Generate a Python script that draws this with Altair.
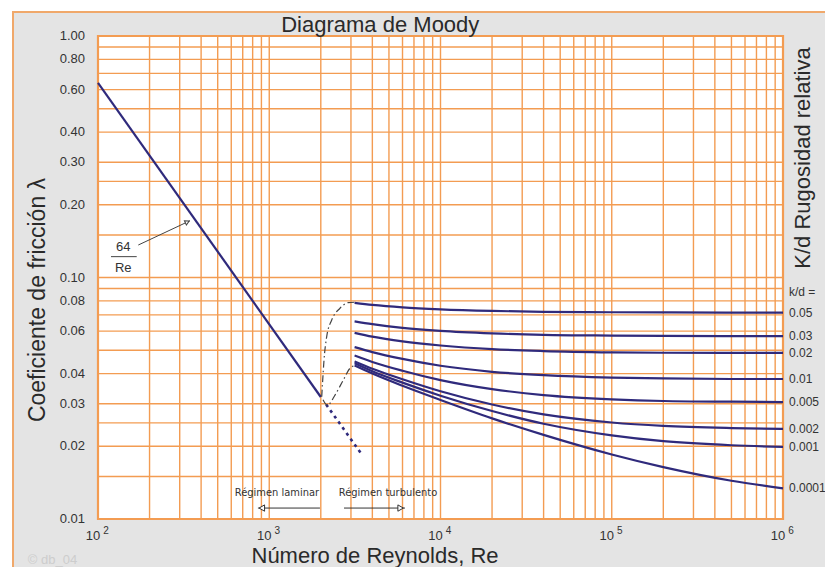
import altair as alt
import pandas as pd

# ---------------- data ----------------
W, H = 685, 483
RE_MIN, RE_MAX = 100, 1_000_000
F_MIN, F_MAX = 0.01, 1.0

DECADES = [100, 1000, 10000, 100000]
MULTS = [1, 2, 3, 4, 5, 6, 7, 8, 9]
GRID_X = [d * m for d in DECADES for m in MULTS] + [1_000_000]
GRID_Y = [1.0, 0.9, 0.8, 0.7, 0.6, 0.5, 0.4, 0.3, 0.25, 0.2, 0.15, 0.1, 0.09, 0.08,
          0.07, 0.06, 0.05, 0.04, 0.03, 0.025, 0.02, 0.015, 0.01]
Y_LABELS = [1.0, 0.8, 0.6, 0.4, 0.3, 0.2, 0.1, 0.08, 0.06, 0.04, 0.03, 0.02, 0.01]
Y_LABEL_TEXT = ["1.00", "0.80", "0.60", "0.40", "0.30", "0.20", "0.10", "0.08", "0.06",
                "0.04", "0.03", "0.02", "0.01"]
X_LABEL_RE = [100, 1000, 10000, 100000, 1000000]
X_LABEL_EXP = ["2", "3", "4", "5", "6"]

# laminar 64/Re
LAM_RE = [100, 2000]
LAM_F = [0.64, 0.032]
LAM_DOT_RE = [2150, 3470]
LAM_DOT_F = [0.0298, 0.0185]

# transition (dash-dot) curves
TR_UP_RE = [2025, 2052, 2088, 2165, 2316, 2589, 2894, 3150]
TR_UP_F = [0.0321, 0.0376, 0.0455, 0.0569, 0.0667, 0.0746, 0.0787, 0.0790]
TR_LO_RE = [2060, 2183, 2421, 2706, 2961, 3150]
TR_LO_F = [0.0312, 0.0296, 0.0326, 0.0376, 0.0421, 0.0432]

# turbulent curves, k/d relative roughness
RE_T = [3150, 4000, 6000, 10000, 20000, 40000, 100000, 200000, 500000, 1000000]
KD = ["0.05", "0.03", "0.02", "0.01", "0.005", "0.002", "0.001", "0.0001"]
F_T = [
    [0.0785, 0.0770, 0.0752, 0.0738, 0.0727, 0.0721, 0.0718, 0.0717, 0.0716, 0.0716],
    [0.0658, 0.0641, 0.0619, 0.0601, 0.0587, 0.0579, 0.0575, 0.0573, 0.0572, 0.0572],
    [0.0590, 0.0569, 0.0544, 0.0523, 0.0505, 0.0496, 0.0490, 0.0488, 0.0487, 0.0487],
    [0.0515, 0.0491, 0.0460, 0.0431, 0.0407, 0.0394, 0.0385, 0.0382, 0.0380, 0.0380],
    [0.0475, 0.0447, 0.0411, 0.0376, 0.0345, 0.0326, 0.0313, 0.0308, 0.0306, 0.0305],
    [0.0449, 0.0419, 0.0379, 0.0338, 0.0298, 0.0271, 0.0251, 0.0243, 0.0238, 0.0236],
    [0.0441, 0.0409, 0.0367, 0.0324, 0.0280, 0.0248, 0.0222, 0.0210, 0.0202, 0.0199],
    [0.0432, 0.0400, 0.0356, 0.0311, 0.0261, 0.0223, 0.0185, 0.0164, 0.0144, 0.0134],
]

# text anchors (data coordinates)
TITLE = {"Re": 4450, "f": 1.111, "t": "Diagrama de Moody"}
XTITLE = {"Re": 4145, "f": 0.00657, "t": "Número de Reynolds, Re"}
YTITLE = {"Re": 49.0, "f": 0.0807, "t": "Coeficiente de fricción λ"}
RTITLE = {"Re": 1.438e6, "f": 0.3125, "t": "K/d Rugosidad relativa"}
KD_HDR = {"Re": 1e6, "f": 0.0873, "t": "k/d  ="}
WATERMARK = {"Re": 54.2, "f": 0.00676, "t": "© db_04"}
FRAC_TOP = {"Re": 140.5, "f": 0.1341, "t": "64"}
FRAC_BOT = {"Re": 140.5, "f": 0.1092, "t": "Re"}
FRAC_BAR = {"Re0": 119.1, "Re1": 168.3, "f": 0.1220}
FRAC_ARROW_RE = [171.9, 344.5]
FRAC_ARROW_F = [0.1363, 0.1718]
FRAC_HEAD = {"Re": 332, "f": 0.1698}
REG_LAM = {"Re": 1109, "f": 0.01281, "t": "Régimen laminar"}
REG_TUR = {"Re": 4937, "f": 0.01281, "t": "Régimen turbulento"}
REG_ARROW_F = 0.0111
REG_LAM_ARROW = [859, 1977]
REG_TUR_ARROW = [2733, 6204]
REG_LAM_HEAD = 905
REG_TUR_HEAD = 5850

# ---------------- styles ----------------
FONT = "Liberation Sans, Arial, sans-serif"
NARROW = "Liberation Sans Narrow, DejaVu Sans Condensed, Liberation Sans, sans-serif"
ORANGE = "#f39c52"
NAVY = "#2f2a7c"
GRAY_BG = "#e4e4e4"
TXT = "#2a2a2a"


def X(field):
    return alt.X(f"{field}:Q", scale=alt.Scale(type="log", domain=[RE_MIN, RE_MAX], nice=False), axis=None)


def Y(field):
    return alt.Y(f"{field}:Q", scale=alt.Scale(type="log", domain=[F_MIN, F_MAX], nice=False), axis=None)


one = alt.Data(values=[{"a": 1}])

# background panel (decoration)
panel = alt.Chart(one).mark_rect(fill=GRAY_BG, stroke="#f0a86a", strokeWidth=2).encode(
    x=alt.value(-85), x2=alt.value(W + 90), y=alt.value(-24), y2=alt.value(H + 100)
)

plot_df = pd.DataFrame({"Re0": [RE_MIN], "Re1": [RE_MAX], "f0": [F_MIN], "f1": [F_MAX]})
plot_bg = alt.Chart(plot_df).mark_rect(fill="white").encode(
    x=X("Re0"), x2="Re1", y=Y("f0"), y2="f1"
)

vgrid_df = pd.DataFrame({"Re": GRID_X, "f0": F_MIN, "f1": F_MAX})
vgrid = alt.Chart(vgrid_df).mark_rule(color=ORANGE, strokeWidth=1.4).encode(
    x=X("Re"), y=Y("f0"), y2="f1"
)
hgrid_df = pd.DataFrame({"f": GRID_Y, "Re0": RE_MIN, "Re1": RE_MAX})
hgrid = alt.Chart(hgrid_df).mark_rule(color=ORANGE, strokeWidth=1.4).encode(
    x=X("Re0"), x2="Re1", y=Y("f")
)
frame = alt.Chart(plot_df).mark_rect(fill=None, stroke=ORANGE, strokeWidth=2.2).encode(
    x=X("Re0"), x2="Re1", y=Y("f0"), y2="f1"
)

lam = alt.Chart(pd.DataFrame({"Re": LAM_RE, "f": LAM_F})).mark_line(color=NAVY, strokeWidth=2.2).encode(
    x=X("Re"), y=Y("f")
)
lam_dot = alt.Chart(pd.DataFrame({"Re": LAM_DOT_RE, "f": LAM_DOT_F})).mark_line(
    color=NAVY, strokeWidth=2.6, strokeDash=[3, 4]).encode(x=X("Re"), y=Y("f"))

tr_df = pd.concat([
    pd.DataFrame({"Re": TR_UP_RE, "f": TR_UP_F, "c": "up", "o": range(len(TR_UP_RE))}),
    pd.DataFrame({"Re": TR_LO_RE, "f": TR_LO_F, "c": "lo", "o": range(len(TR_LO_RE))}),
])
trans = alt.Chart(tr_df).mark_line(color="#444", strokeWidth=1.2, strokeDash=[7, 3, 1.5, 3],
                                   interpolate="monotone").encode(
    x=X("Re"), y=Y("f"), detail="c:N", order="o:Q"
)

rows = []
for kd, fs in zip(KD, F_T):
    for i, (re, f) in enumerate(zip(RE_T, fs)):
        rows.append({"kd": kd, "Re": re, "f": f, "o": i})
turb_df = pd.DataFrame(rows)
turb = alt.Chart(turb_df).mark_line(color=NAVY, strokeWidth=2.2, interpolate="monotone").encode(
    x=X("Re"), y=Y("f"), detail="kd:N", order="o:Q"
)

# left y tick labels
yl_df = pd.DataFrame({"Re": RE_MIN, "f": Y_LABELS, "t": Y_LABEL_TEXT})
ylabels = alt.Chart(yl_df).mark_text(align="right", baseline="middle", dx=-13, font=FONT, fontSize=13,
                                     color="#333").encode(x=X("Re"), y=Y("f"), text="t:N")

# right-side k/d labels at curve ends
rl_df = pd.DataFrame({"Re": RE_T[-1], "f": [fs[-1] for fs in F_T], "t": KD})
rlabels = alt.Chart(rl_df).mark_text(align="left", baseline="middle", dx=6, font=FONT, fontSize=12,
                                     color="#333").encode(x=X("Re"), y=Y("f"), text="t:N")

# x tick labels 10^n
xl_df = pd.DataFrame({"Re": X_LABEL_RE, "f": F_MIN, "e": X_LABEL_EXP, "b": "10"})
xbase = alt.Chart(xl_df).mark_text(align="center", baseline="middle", dx=-5, dy=17, font=FONT,
                                   fontSize=13, color="#333").encode(x=X("Re"), y=Y("f"), text="b:N")
xexp = alt.Chart(xl_df).mark_text(align="center", baseline="middle", dx=8, dy=12, font=FONT,
                                  fontSize=10, color="#333").encode(x=X("Re"), y=Y("f"), text="e:N")


def txt(d, **kw):
    return alt.Chart(pd.DataFrame([d])).mark_text(**kw).encode(x=X("Re"), y=Y("f"), text="t:N")


title = txt(TITLE, align="center", baseline="middle", font=FONT, fontSize=22, color=TXT)
xtitle = txt(XTITLE, align="center", baseline="alphabetic", font=FONT, fontSize=22, color=TXT)
ytitle = txt(YTITLE, align="center", baseline="alphabetic", angle=270, font=FONT, fontSize=23, color=TXT)
rtitle = txt(RTITLE, align="center", baseline="alphabetic", angle=270, font=FONT, fontSize=22, color=TXT)
kdhdr = txt(KD_HDR, align="left", baseline="middle", dx=6, font=FONT, fontSize=12, color="#333")
wm = txt(WATERMARK, align="center", baseline="middle", font=FONT, fontSize=13, color="#cdcdcd")
f64 = txt(FRAC_TOP, align="center", baseline="middle", font=FONT, fontSize=13, color="#333")
fre = txt(FRAC_BOT, align="center", baseline="middle", font=FONT, fontSize=13, color="#333")
fbar = alt.Chart(pd.DataFrame([FRAC_BAR])).mark_rule(color="#444", strokeWidth=1).encode(
    x=X("Re0"), x2="Re1", y=Y("f"))
farrow = alt.Chart(pd.DataFrame({"Re": FRAC_ARROW_RE, "f": FRAC_ARROW_F})).mark_line(
    color="#444", strokeWidth=1).encode(x=X("Re"), y=Y("f"))
fhead = alt.Chart(pd.DataFrame([FRAC_HEAD])).mark_point(
    shape="triangle-right", size=22, filled=True, fill="white", stroke="#444", strokeWidth=1,
    opacity=1, angle=335).encode(x=X("Re"), y=Y("f"))

reg_lam = txt(REG_LAM, align="center", baseline="middle", font=NARROW, fontSize=11, color="#333")
reg_tur = txt(REG_TUR, align="center", baseline="middle", font=NARROW, fontSize=11, color="#333")
arr_df = pd.DataFrame({"Re0": [REG_LAM_ARROW[0], REG_TUR_ARROW[0]],
                       "Re1": [REG_LAM_ARROW[1], REG_TUR_ARROW[1]], "f": REG_ARROW_F})
reg_arrows = alt.Chart(arr_df).mark_rule(color="#333", strokeWidth=1).encode(
    x=X("Re0"), x2="Re1", y=Y("f"))
lam_head = alt.Chart(pd.DataFrame({"Re": [REG_LAM_HEAD], "f": [REG_ARROW_F]})).mark_point(
    shape="triangle-left", size=40, filled=True, fill="white", stroke="#333", strokeWidth=1,
    opacity=1).encode(x=X("Re"), y=Y("f"))
tur_head = alt.Chart(pd.DataFrame({"Re": [REG_TUR_HEAD], "f": [REG_ARROW_F]})).mark_point(
    shape="triangle-right", size=40, filled=True, fill="white", stroke="#333", strokeWidth=1,
    opacity=1).encode(x=X("Re"), y=Y("f"))

chart = alt.layer(
    panel, plot_bg, vgrid, hgrid, frame,
    lam, lam_dot, trans, turb,
    ylabels, rlabels, xbase, xexp, title, xtitle, ytitle, rtitle, kdhdr, wm,
    f64, fre, fbar, farrow, fhead,
    reg_lam, reg_tur, reg_arrows, lam_head, tur_head,
).properties(
    width=W, height=H,
    autosize=alt.AutoSizeParams(type="none"),
    padding={"left": 90, "top": 28, "right": 42, "bottom": 48},
).configure(background="white").configure_view(stroke=None)

chart.save("out.html", embed_options={"renderer": "svg", "actions": False})
